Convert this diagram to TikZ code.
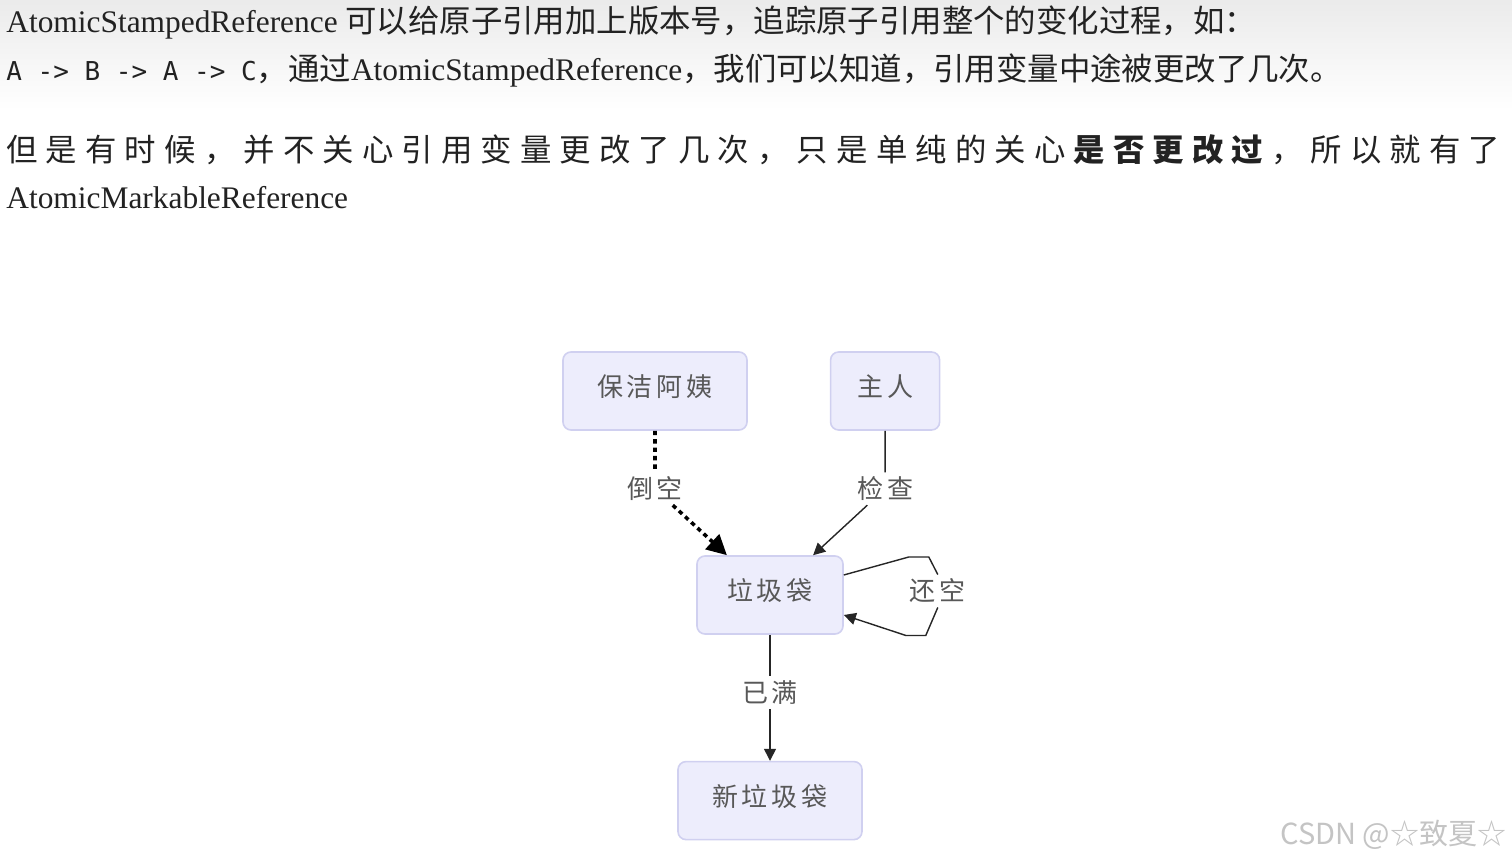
\documentclass[tikz,border=0pt]{standalone}
\usepackage{fontspec}
\setmainfont{Liberation Serif}
\newfontfamily\cjk{Noto Sans CJK SC}
\newfontfamily\codefont{DejaVu Sans Mono}
\usetikzlibrary{arrows.meta,positioning}
\definecolor{mmfill}{RGB}{237,237,252}
\definecolor{mmline}{RGB}{208,208,240}
\definecolor{mmtext}{RGB}{88,88,88}
\definecolor{inkgray}{RGB}{34,34,34}
\definecolor{marktext}{RGB}{196,196,196}
\newcommand\spreadsep{\hfil}
\def\spreadloop#1#2\endspread{#1\ifx\relax#2\relax\else\spreadsep\spreadloop#2\endspread\fi}
\newcommand\spreadtext[1]{\spreadloop#1\endspread}
\newcommand\gaptext[1]{{\def\spreadsep{\kern2pt}\spreadtext{#1}}}
\tikzset{
  mmbox/.style={draw=mmline, line width=0.8pt, fill=mmfill, rounded corners=4pt, minimum height=39pt, inner sep=2pt, text height=10pt, text depth=4.2pt, text=mmtext, font=\cjk\fontsize{13}{15}\selectfont},
  mmlabel/.style={fill=white, inner sep=2pt, text=mmtext, font=\cjk\fontsize{13}{15}\selectfont},
  mmarr/.style={-{Triangle[length=6pt,width=6pt]}, line width=0.7pt, draw=black!85},
  mmdot/.style={-{Triangle[length=10pt,width=10pt]}, line width=1.8pt, dash pattern=on 2.2pt off 2pt, draw=black},
  pageline/.style={anchor=base west, inner sep=0pt, text=inkgray, font=\fontsize{15.7}{18}\selectfont}
}
\begin{document}
\begin{tikzpicture}[x=0.5pt, y=-0.5pt]
  \useasboundingbox (0,0) rectangle (1512,860);
  \fill[white] (0,0) rectangle (1512,860);
  \shade[top color=black!8, bottom color=white] (0,0) rectangle (1512,110);
  % text above the diagram
  \node[pageline] (intro) at (6,33) {AtomicStampedReference {\cjk 可以给原子引用加上版本号，追踪原子引用整个的变化过程，如：}};
  \node[pageline] (chain) at (6,81) {{\codefont\fontsize{13}{15}\selectfont A -> B -> A -> C}{\cjk ，通过}AtomicStampedReference{\cjk ，我们可以知道，引用变量中途被更改了几次。}};
  \node[pageline] (but) at (6,162) {\makebox[747pt][s]{\cjk\spreadtext{但是有时候，并不关心引用变量更改了几次，只是单纯的关心}\hfil{\bfseries\spreadtext{是否更改过}}\hfil\spreadtext{，所以就有了}}};
  \node[pageline] (markable) at (6,209) {AtomicMarkableReference};
  % diagram
  \node[mmbox, minimum width=92pt] (cleaner) at (655,391) {\gaptext{保洁阿姨}};
  \node[mmbox, minimum width=54.5pt, right=41pt of cleaner] (owner) {\gaptext{主人}};
  \node[mmbox, minimum width=73pt] (bag) at (770,595) {\gaptext{垃圾袋}};
  \node[mmbox, minimum width=92pt, below=63pt of bag] (newbag) {\gaptext{新垃圾袋}};
  \node[mmlabel] (lempty) at ([yshift=-29pt]cleaner.south) {\gaptext{倒空}};
  \node[mmlabel] (lcheck) at (owner.south |- lempty) {\gaptext{检查}};
  \node[mmlabel] (lreturn) at ([xshift=47pt,yshift=2pt]bag.east) {\gaptext{还空}};
  \node[mmlabel] (lfull) at ([yshift=-29pt]bag.south) {\gaptext{已满}};
  \draw[mmdot] (cleaner) -- (lempty) -- (bag);
  \draw[mmarr] (owner) -- (lcheck) -- (bag);
  \draw[mmarr] ([yshift=10pt]bag.east) -- ++(65,-18) -- ++(20,0) -- (lreturn.north) (lreturn.south) -- ++(-12,28) -- ++(-20,0) -- ([yshift=-10pt]bag.east);
  \draw[mmarr] (bag) -- (lfull) -- (newbag);
  \node[anchor=base west, inner sep=0pt, text=marktext, font=\cjk\fontsize{14.5}{17}\selectfont] (mark) at (1280,845) {CSDN @☆致夏☆};
\end{tikzpicture}
\end{document}
